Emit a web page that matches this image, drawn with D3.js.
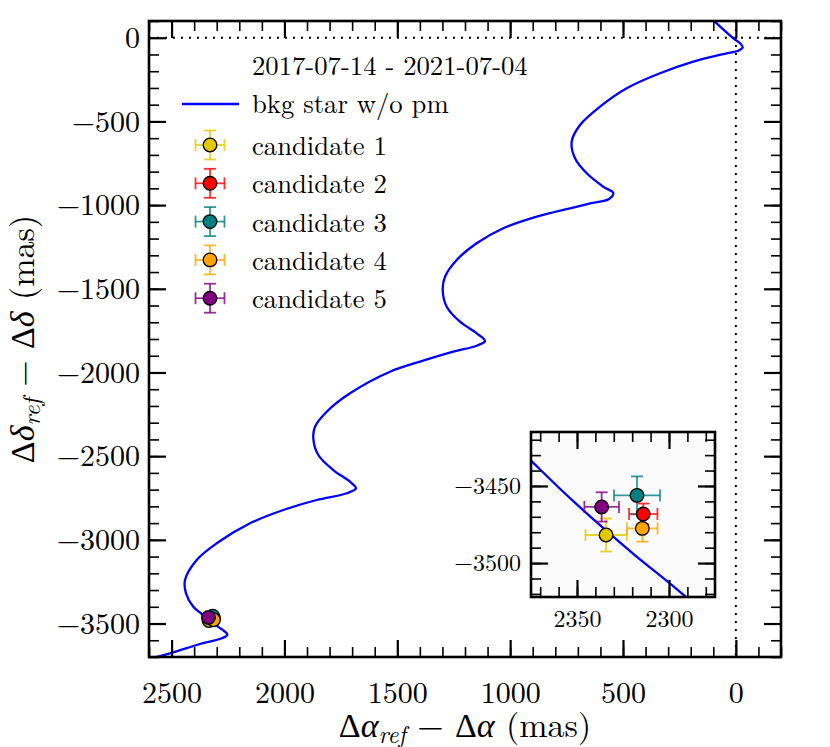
<!DOCTYPE html>
<html>
<head>
<meta charset="utf-8">
<script src="https://cdn.jsdelivr.net/npm/d3@7"></script>
<style>
	body { margin: 0; background: #fff; }
	svg { display: block; }
</style>
</head>
<body>
<script>
// Track of a background star without proper motion: [dRA (mas), dDec (mas)]
const track = [
	[140, 155], [96.8, 100], [11.3, -3.4], [-18.4, -33.2], [-30.3, -57.1], [-10.8, -77.5], [40.6, -93],
	[188.5, -143.2], [336, -212.5], [483.6, -302.1], [601.9, -412], [690.5, -521.4], [727.3, -621.2],
	[712.6, -720.4], [660.8, -810], [587.3, -890], [543, -927.7], [562, -963.5], [646, -990],
	[734.8, -1019], [882.3, -1069.3], [1030.3, -1138.6], [1148.2, -1228.2], [1236.8, -1328],
	[1288.6, -1427.8], [1298.8, -1507.3], [1281.1, -1607], [1222.1, -1696.7], [1148.2, -1766],
	[1111.4, -1812], [1148.2, -1840], [1251.8, -1875.9], [1399.4, -1935.7], [1532.3, -1995.4],
	[1709.5, -2124.5], [1812.7, -2234.4], [1864.6, -2324], [1872.1, -2393.4], [1849.9, -2493.2],
	[1783.5, -2582.8], [1709.5, -2652.7], [1682.9, -2692.1], [1724.1, -2721.9], [1857, -2762],
	[2005, -2821.8], [2152.5, -2901.2], [2300.1, -3020.7], [2388.7, -3120.5], [2440.5, -3240],
	[2436.1, -3319.5], [2403.7, -3399.5], [2374.6, -3434], [2351, -3461], [2319.4, -3494],
	[2291.8, -3521], [2253, -3566], [2277.9, -3588.4], [2374, -3622.4], [2507, -3677.9], [2640, -3724],
]

const candNames = ['candidate 1', 'candidate 2', 'candidate 3', 'candidate 4', 'candidate 5']
const candColors = ['#e3c800', '#ff0000', '#008080', '#ffa500', '#800080']
const candRA = [2334.2, 2314, 2317.4, 2314.5, 2336.6]
const candDec = [-3481.8, -3468.2, -3456.1, -3477.5, -3463.6]
const candRAerr = [11.2, 7.7, 12.5, 8.3, 9.4]
const candDecErr = [10.7, 6.8, 12.3, 8.6, 9.5]

const legendTitle = '2017-07-14 - 2021-07-04'
const trackName = 'bkg star w/o pm'

const xDomain = [2600, -200]
const yDomain = [-3700, 100]
const xMajor = d3.range(0, 2501, 500)
const xMinor = d3.range(-200, 2601, 100)
const yMajor = d3.range(-3500, 1, 500)
const yMinor = d3.range(-3700, 101, 100)

const insetX = [2375, 2275]
const insetY = [-3522, -3415]
const insetXMajor = [2350, 2300]
const insetXMinor = d3.range(2280, 2371, 10)
const insetYMajor = [-3500, -3450]
const insetYMinor = d3.range(-3520, -3419, 10)

const FONT = '"Latin Modern Roman", "Liberation Serif", serif'
const GREEK = '"Liberation Serif", serif'

const svg = d3.select('body').append('svg').attr('width', 830).attr('height', 747)
	.attr('font-family', FONT)
const x = d3.scaleLinear().domain(xDomain).range([149, 781])
const y = d3.scaleLinear().domain(yDomain).range([657, 21])
const fmt = d3.format('d')

// Inward ticks on all four sides, labels only bottom and left
function frame(g, xs, ys, xMaj, xMin, yMaj, yMin, fs, padX, padY) {
	const [x0, x1] = xs.range()
	const [y0, y1] = ys.range()
	const sides = [
		[d3.axisBottom(xs), `translate(0,${y0})`, xMaj, xMin, true, padX],
		[d3.axisTop(xs), `translate(0,${y1})`, xMaj, xMin, false, 0],
		[d3.axisLeft(ys), `translate(${x0},0)`, yMaj, yMin, true, padY],
		[d3.axisRight(ys), `translate(${x1},0)`, yMaj, yMin, false, 0],
	]
	sides.forEach(([ax, tr, maj, min, lab, pad]) => {
		g.append('g').attr('transform', tr)
			.call(ax.tickValues(min).tickSize(-10).tickSizeOuter(0).tickFormat(''))
			.call(s => s.select('.domain').remove())
			.selectAll('line').attr('stroke', '#000').attr('stroke-width', 1.6)
		const a = g.append('g').attr('transform', tr)
			.call(ax.tickValues(maj).tickSize(-17).tickPadding(pad).tickFormat(lab ? fmt : ''))
			.attr('font-size', fs).attr('font-family', FONT)
		a.select('.domain').remove()
		a.selectAll('line').attr('stroke', '#000').attr('stroke-width', 2.2)
	})
	g.append('rect')
		.attr('x', x0).attr('y', y1).attr('width', x1 - x0).attr('height', y0 - y1)
		.attr('fill', 'none').attr('stroke', '#000').attr('stroke-width', 2.6)
}

function candidates(g, xs, ys) {
	const cap = 6
	const bars = g.append('g')
	candNames.forEach((_, i) => {
		const cx = xs(candRA[i]), cy = ys(candDec[i])
		const xl = xs(candRA[i] + candRAerr[i]), xr = xs(candRA[i] - candRAerr[i])
		const yt = ys(candDec[i] + candDecErr[i]), yb = ys(candDec[i] - candDecErr[i])
		const b = bars.append('g').attr('stroke', candColors[i]).attr('stroke-width', 1.8).attr('stroke-opacity', 0.8)
		b.append('line').attr('x1', xl).attr('x2', xr).attr('y1', cy).attr('y2', cy)
		b.append('line').attr('x1', cx).attr('x2', cx).attr('y1', yt).attr('y2', yb)
		;[xl, xr].forEach(v => b.append('line').attr('x1', v).attr('x2', v).attr('y1', cy - cap).attr('y2', cy + cap))
		;[yt, yb].forEach(v => b.append('line').attr('x1', cx - cap).attr('x2', cx + cap).attr('y1', v).attr('y2', v))
	})
	g.selectAll('circle.cand').data(candNames).join('circle').classed('cand', true)
		.attr('cx', (_, i) => xs(candRA[i]))
		.attr('cy', (_, i) => ys(candDec[i]))
		.attr('r', 6.8)
		.attr('fill', (_, i) => candColors[i])
		.attr('stroke', '#000').attr('stroke-width', 1.3)
}

const defs = svg.append('defs')
defs.append('clipPath').attr('id', 'clipMain').append('rect').attr('x', 149).attr('y', 21).attr('width', 632).attr('height', 636)

// main panel
const main = svg.append('g')
const plot = main.append('g').attr('clip-path', 'url(#clipMain)')
plot.append('line').attr('x1', 149).attr('x2', 781).attr('y1', y(0)).attr('y2', y(0))
	.attr('stroke', '#000').attr('stroke-width', 2).attr('stroke-dasharray', '2,6')
plot.append('line').attr('x1', x(0)).attr('x2', x(0)).attr('y1', 21).attr('y2', 657)
	.attr('stroke', '#000').attr('stroke-width', 2).attr('stroke-dasharray', '2,6')

const line = xs => ys => d3.line().x(d => xs(d[0])).y(d => ys(d[1])).curve(d3.curveCatmullRom.alpha(0.5))
plot.append('path').datum(track).attr('d', line(x)(y))
	.attr('fill', 'none').attr('stroke', '#0000ff').attr('stroke-width', 2.3)
candidates(plot, x, y)
frame(main, x, y, xMajor, xMinor, yMajor, yMinor, 30, 25, 9)

// axis labels: Δα_ref − Δα (mas), Δδ_ref − Δδ (mas)
function axisLabel(t, greek) {
	t.attr('text-anchor', 'middle').attr('font-size', 34)
	t.append('tspan').attr('font-family', GREEK).text('Δ')
	t.append('tspan').attr('font-family', GREEK).attr('font-style', 'italic').text(greek)
	t.append('tspan').attr('font-style', 'italic').attr('font-size', 24).attr('dy', 6).text('ref')
	t.append('tspan').attr('dy', -6).text(' − ')
	t.append('tspan').attr('font-family', GREEK).text('Δ')
	t.append('tspan').attr('font-family', GREEK).attr('font-style', 'italic').text(greek)
	t.append('tspan').text(' (mas)')
}
axisLabel(svg.append('text').attr('x', 465).attr('y', 737), 'α')
axisLabel(svg.append('text').attr('transform', 'translate(34,339) rotate(-90)'), 'δ')

// legend
const leg = svg.append('g').attr('font-size', 26.7)
leg.append('text').attr('x', 252).attr('y', 75).text(legendTitle)
leg.append('line').attr('x1', 182).attr('x2', 239).attr('y1', 104).attr('y2', 104)
	.attr('stroke', '#0000ff').attr('stroke-width', 2.3)
leg.append('text').attr('x', 252).attr('y', 113).text(trackName)
candNames.forEach((name, i) => {
	const base = 155 + i * 38.3
	const cy = base - 10, cx = 210, h = 14.5, cap = 6
	const b = leg.append('g').attr('stroke', candColors[i]).attr('stroke-width', 1.8).attr('stroke-opacity', 0.8)
	b.append('line').attr('x1', cx - h).attr('x2', cx + h).attr('y1', cy).attr('y2', cy)
	b.append('line').attr('x1', cx).attr('x2', cx).attr('y1', cy - h).attr('y2', cy + h)
	;[-h, h].forEach(v => b.append('line').attr('x1', cx + v).attr('x2', cx + v).attr('y1', cy - cap).attr('y2', cy + cap))
	;[-h, h].forEach(v => b.append('line').attr('x1', cx - cap).attr('x2', cx + cap).attr('y1', cy + v).attr('y2', cy + v))
	leg.append('circle').attr('cx', cx).attr('cy', cy).attr('r', 6.8)
		.attr('fill', candColors[i]).attr('stroke', '#000').attr('stroke-width', 1.3)
	leg.append('text').attr('x', 252).attr('y', base).text(name)
})

// inset
const ix = d3.scaleLinear().domain(insetX).range([531, 715])
const iy = d3.scaleLinear().domain(insetY).range([597, 432])
defs.append('clipPath').attr('id', 'clipInset').append('rect').attr('x', 531).attr('y', 432).attr('width', 184).attr('height', 165)
const inset = svg.append('g')
inset.append('rect').attr('x', 531).attr('y', 432).attr('width', 184).attr('height', 165).attr('fill', '#fbfbfb')
const iplot = inset.append('g').attr('clip-path', 'url(#clipInset)')
iplot.append('path').datum(track).attr('d', line(ix)(iy))
	.attr('fill', 'none').attr('stroke', '#0000ff').attr('stroke-width', 2.3)
candidates(iplot, ix, iy)
frame(inset, ix, iy, insetXMajor, insetXMinor, insetYMajor, insetYMinor, 24, 13, 10)
</script>
</body>
</html>
